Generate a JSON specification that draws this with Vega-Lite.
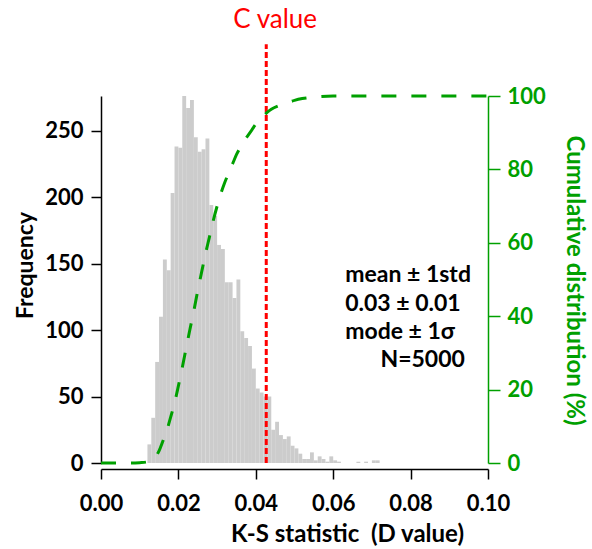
{
  "$schema": "https://vega.github.io/schema/vega-lite/v6.json",
  "width": 387,
  "height": 367,
  "autosize": {"type": "none"},
  "padding": {"left": 101, "top": 96, "right": 104, "bottom": 86},
  "config": {
    "view": {"stroke": null},
    "font": "Lato",
    "axis": {"grid": false, "labelFont": "Lato", "titleFont": "Lato"}
  },
  "datasets": {
    "hist": [
      {"bin_start": 0.012, "bin_end": 0.013, "frequency": 14},
      {"bin_start": 0.013, "bin_end": 0.014, "frequency": 34},
      {"bin_start": 0.014, "bin_end": 0.015, "frequency": 76},
      {"bin_start": 0.015, "bin_end": 0.016, "frequency": 110},
      {"bin_start": 0.016, "bin_end": 0.017, "frequency": 153},
      {"bin_start": 0.017, "bin_end": 0.018, "frequency": 145},
      {"bin_start": 0.018, "bin_end": 0.019, "frequency": 203},
      {"bin_start": 0.019, "bin_end": 0.020, "frequency": 238},
      {"bin_start": 0.020, "bin_end": 0.021, "frequency": 237},
      {"bin_start": 0.021, "bin_end": 0.022, "frequency": 276},
      {"bin_start": 0.022, "bin_end": 0.023, "frequency": 267},
      {"bin_start": 0.023, "bin_end": 0.024, "frequency": 273},
      {"bin_start": 0.024, "bin_end": 0.025, "frequency": 245},
      {"bin_start": 0.025, "bin_end": 0.026, "frequency": 234},
      {"bin_start": 0.026, "bin_end": 0.027, "frequency": 236},
      {"bin_start": 0.027, "bin_end": 0.028, "frequency": 244},
      {"bin_start": 0.028, "bin_end": 0.029, "frequency": 194},
      {"bin_start": 0.029, "bin_end": 0.030, "frequency": 186},
      {"bin_start": 0.030, "bin_end": 0.031, "frequency": 164},
      {"bin_start": 0.031, "bin_end": 0.032, "frequency": 161},
      {"bin_start": 0.032, "bin_end": 0.033, "frequency": 136},
      {"bin_start": 0.033, "bin_end": 0.034, "frequency": 136},
      {"bin_start": 0.034, "bin_end": 0.035, "frequency": 124},
      {"bin_start": 0.035, "bin_end": 0.036, "frequency": 138},
      {"bin_start": 0.036, "bin_end": 0.037, "frequency": 99},
      {"bin_start": 0.037, "bin_end": 0.038, "frequency": 94},
      {"bin_start": 0.038, "bin_end": 0.039, "frequency": 88},
      {"bin_start": 0.039, "bin_end": 0.040, "frequency": 71},
      {"bin_start": 0.040, "bin_end": 0.041, "frequency": 56},
      {"bin_start": 0.041, "bin_end": 0.042, "frequency": 53},
      {"bin_start": 0.042, "bin_end": 0.043, "frequency": 50},
      {"bin_start": 0.043, "bin_end": 0.044, "frequency": 50},
      {"bin_start": 0.044, "bin_end": 0.045, "frequency": 25},
      {"bin_start": 0.045, "bin_end": 0.046, "frequency": 31},
      {"bin_start": 0.046, "bin_end": 0.047, "frequency": 21},
      {"bin_start": 0.047, "bin_end": 0.048, "frequency": 18},
      {"bin_start": 0.048, "bin_end": 0.049, "frequency": 20},
      {"bin_start": 0.049, "bin_end": 0.050, "frequency": 13},
      {"bin_start": 0.050, "bin_end": 0.051, "frequency": 11},
      {"bin_start": 0.051, "bin_end": 0.052, "frequency": 7},
      {"bin_start": 0.052, "bin_end": 0.053, "frequency": 3},
      {"bin_start": 0.053, "bin_end": 0.054, "frequency": 3},
      {"bin_start": 0.054, "bin_end": 0.055, "frequency": 8},
      {"bin_start": 0.055, "bin_end": 0.056, "frequency": 2},
      {"bin_start": 0.056, "bin_end": 0.057, "frequency": 5},
      {"bin_start": 0.057, "bin_end": 0.058, "frequency": 3},
      {"bin_start": 0.058, "bin_end": 0.059, "frequency": 1},
      {"bin_start": 0.059, "bin_end": 0.060, "frequency": 5},
      {"bin_start": 0.060, "bin_end": 0.061, "frequency": 2},
      {"bin_start": 0.061, "bin_end": 0.062, "frequency": 1},
      {"bin_start": 0.066, "bin_end": 0.067, "frequency": 1},
      {"bin_start": 0.068, "bin_end": 0.069, "frequency": 1},
      {"bin_start": 0.070, "bin_end": 0.071, "frequency": 2},
      {"bin_start": 0.071, "bin_end": 0.072, "frequency": 2}
    ],
    "cdf": [
      {"d": 0.000, "cum": 0},
      {"d": 0.008, "cum": 0},
      {"d": 0.010, "cum": 0.1},
      {"d": 0.012, "cum": 0.3},
      {"d": 0.013, "cum": 0.6},
      {"d": 0.014, "cum": 1.5},
      {"d": 0.015, "cum": 3.3},
      {"d": 0.016, "cum": 6},
      {"d": 0.017, "cum": 8.8},
      {"d": 0.018, "cum": 12.5},
      {"d": 0.019, "cum": 16.3},
      {"d": 0.020, "cum": 21},
      {"d": 0.021, "cum": 26},
      {"d": 0.022, "cum": 31.3},
      {"d": 0.023, "cum": 36.5},
      {"d": 0.024, "cum": 41.5},
      {"d": 0.025, "cum": 47},
      {"d": 0.026, "cum": 52},
      {"d": 0.027, "cum": 57},
      {"d": 0.028, "cum": 61.5},
      {"d": 0.029, "cum": 66},
      {"d": 0.030, "cum": 70},
      {"d": 0.031, "cum": 73.5},
      {"d": 0.032, "cum": 76.5},
      {"d": 0.033, "cum": 79},
      {"d": 0.034, "cum": 81.5},
      {"d": 0.035, "cum": 84},
      {"d": 0.036, "cum": 86},
      {"d": 0.037, "cum": 87.8},
      {"d": 0.038, "cum": 89.3},
      {"d": 0.039, "cum": 90.8},
      {"d": 0.040, "cum": 92.3},
      {"d": 0.041, "cum": 93.5},
      {"d": 0.042, "cum": 94.6},
      {"d": 0.043, "cum": 95.6},
      {"d": 0.044, "cum": 96.4},
      {"d": 0.046, "cum": 97.4},
      {"d": 0.048, "cum": 98.1},
      {"d": 0.050, "cum": 98.8},
      {"d": 0.052, "cum": 99.3},
      {"d": 0.055, "cum": 99.7},
      {"d": 0.060, "cum": 100},
      {"d": 0.070, "cum": 100},
      {"d": 0.100, "cum": 100}
    ]
  },
  "layer": [
    {
      "layer": [
        {
          "data": {"name": "hist"},
          "mark": {"type": "bar", "color": "#cccccc", "strokeWidth": 0},
          "encoding": {
            "x": {
              "field": "bin_start", "type": "quantitative",
              "scale": {"domain": [0, 0.1], "nice": false, "zero": false},
              "axis": {
                "title": "K-S statistic\u00a0 (D value)",
                "values": [0, 0.02, 0.04, 0.06, 0.08, 0.1],
                "format": ".2f",
                "offset": 6,
                "tickSize": 10, "tickWidth": 1.5, "tickColor": "black",
                "domainWidth": 1.5, "domainColor": "black",
                "labelFontSize": 22, "labelFontWeight": "bold", "labelColor": "black",
                "labelPadding": 14, "labelFlush": false,
                "titleFontSize": 24, "titleFontWeight": "bold", "titleColor": "black",
                "titleX": 246, "titleY": 72, "titleBaseline": "alphabetic", "titleAlign": "center"
              }
            },
            "x2": {"field": "bin_end"},
            "y": {
              "field": "frequency", "type": "quantitative",
              "scale": {"domain": [0, 276], "nice": false},
              "axis": {
                "orient": "left",
                "title": "Frequency",
                "values": [0, 50, 100, 150, 200, 250],
                "tickSize": 10, "tickWidth": 1.5, "tickColor": "black",
                "domainWidth": 1.5, "domainColor": "black",
                "labelFontSize": 22, "labelFontWeight": "bold", "labelColor": "black",
                "labelPadding": 8,
                "titleFontSize": 23, "titleFontWeight": "bold", "titleColor": "black",
                "titleAngle": 270, "titleX": -69, "titleY": 169, "titleBaseline": "alphabetic", "titleAlign": "center"
              }
            },
            "y2": {"datum": 0}
          }
        },
        {
          "data": {"values": [{}]},
          "mark": {"type": "rule", "color": "#ff0000", "strokeWidth": 3, "strokeDash": [6, 3]},
          "encoding": {
            "x": {"datum": 0.0427, "type": "quantitative"},
            "y": {"datum": 0, "type": "quantitative"},
            "y2": {"datum": 315}
          }
        },
        {
          "data": {"values": [{}]},
          "mark": {"type": "text", "text": "C value", "color": "#ff0000", "fontSize": 26, "font": "Lato", "align": "center", "baseline": "alphabetic"},
          "encoding": {
            "x": {"datum": 0.045, "type": "quantitative"},
            "y": {"datum": 327.5, "type": "quantitative"}
          }
        },
        {
          "data": {"values": [{}]},
          "mark": {"type": "text", "text": "mean ± 1std", "color": "black", "fontSize": 23, "fontWeight": "bold", "font": "Lato", "align": "left", "baseline": "alphabetic"},
          "encoding": {
            "x": {"datum": 0.0631, "type": "quantitative"},
            "y": {"datum": 136.3, "type": "quantitative"}
          }
        },
        {
          "data": {"values": [{}]},
          "mark": {"type": "text", "text": "0.03 ± 0.01", "color": "black", "fontSize": 23, "fontWeight": "bold", "font": "Lato", "align": "left", "baseline": "alphabetic"},
          "encoding": {
            "x": {"datum": 0.0631, "type": "quantitative"},
            "y": {"datum": 114.5, "type": "quantitative"}
          }
        },
        {
          "data": {"values": [{}]},
          "mark": {"type": "text", "text": "mode ± 1σ", "color": "black", "fontSize": 23, "fontWeight": "bold", "font": "Lato", "align": "left", "baseline": "alphabetic"},
          "encoding": {
            "x": {"datum": 0.0631, "type": "quantitative"},
            "y": {"datum": 93.1, "type": "quantitative"}
          }
        },
        {
          "data": {"values": [{}]},
          "mark": {"type": "text", "text": "N=5000", "color": "black", "fontSize": 23, "fontWeight": "bold", "font": "Lato", "align": "left", "baseline": "alphabetic"},
          "encoding": {
            "x": {"datum": 0.0722, "type": "quantitative"},
            "y": {"datum": 71.9, "type": "quantitative"}
          }
        }
      ]
    },
    {
      "data": {"name": "cdf"},
      "mark": {"type": "line", "color": "#00a000", "strokeWidth": 3, "strokeDash": [15, 15], "interpolate": "monotone"},
      "encoding": {
        "x": {"field": "d", "type": "quantitative"},
        "y": {
          "field": "cum", "type": "quantitative",
          "scale": {"domain": [0, 100], "nice": false},
          "axis": {
            "orient": "right",
            "title": "Cumulative distribution (%)",
            "values": [0, 20, 40, 60, 80, 100],
            "tickSize": 12, "tickWidth": 1.5, "tickColor": "#00a000",
            "domainWidth": 1.5, "domainColor": "#00a000",
            "labelFontSize": 22, "labelFontWeight": "bold", "labelColor": "#00a000",
            "labelPadding": 7,
            "titleFontSize": 24, "titleFontWeight": "bold", "titleColor": "#00a000",
            "titleAngle": 90, "titleX": 78, "titleY": 184, "titleBaseline": "alphabetic", "titleAlign": "center"
          }
        }
      }
    }
  ],
  "resolve": {"scale": {"y": "independent"}}
}
